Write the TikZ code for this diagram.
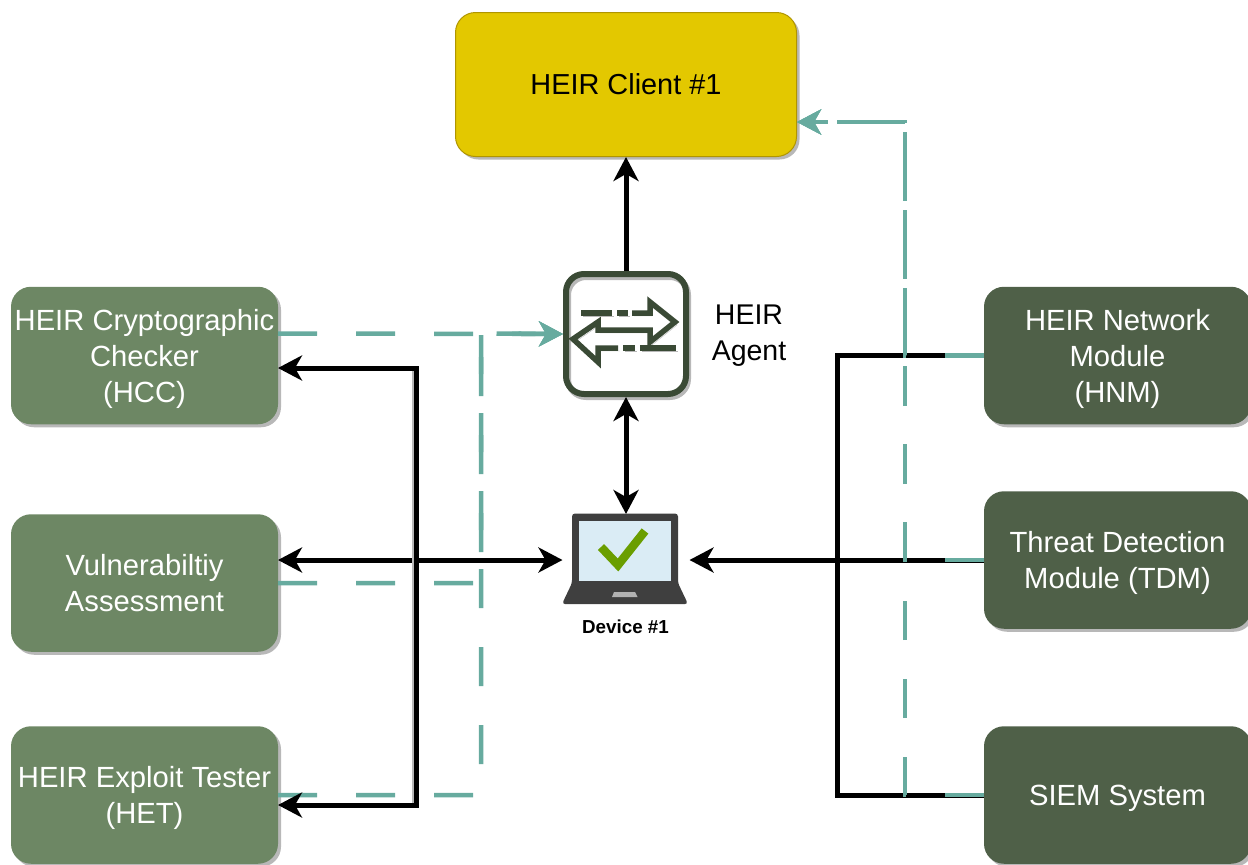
\documentclass[tikz,border=0pt]{standalone}
\usepackage{fontspec}
\setmainfont{Liberation Sans}
\usetikzlibrary{arrows.meta,shadows}
\definecolor{modgreen}{HTML}{6D8764}
\definecolor{darkgreen}{HTML}{4F6048}
\definecolor{agentgreen}{HTML}{3A4A35}
\definecolor{linkteal}{HTML}{67AB9F}
\definecolor{clientyellow}{HTML}{E3C800}
\definecolor{clientborder}{HTML}{B09500}
\definecolor{laptopgray}{HTML}{3F3F3F}
\definecolor{screenblue}{HTML}{DAECF5}
\definecolor{checkgreen}{HTML}{6A9E00}
\tikzset{
    softshadow/.style={drop shadow={shadow xshift=3pt,shadow yshift=-3pt,fill=black!28,opacity=1}},
    module/.style={rounded corners=20pt,softshadow,outer sep=0pt,inner sep=0pt,text=white,align=center,text depth=0pt,
        minimum width=267pt,minimum height=137.5pt,font=\fontsize{29.2}{36}\selectfont},
    leftmodule/.style={module,fill=modgreen},
    rightmodule/.style={module,fill=darkgreen},
    blackline/.style={draw=black,line width=5pt},
    busshadow/.style={draw=black!28,line width=5pt,transform canvas={xshift=-2pt}},
    tealdash/.style={draw=linkteal,line width=4.5pt,dash pattern=on 39pt off 39pt},
    tip/.style={-{Stealth[length=24pt,width=25pt,inset=7pt]}},
    bothtips/.style={{Stealth[length=24pt,width=25pt,inset=7pt]}-{Stealth[length=24pt,width=25pt,inset=7pt]}},
    iconline/.style={draw=agentgreen,line width=5.5pt,preaction={draw=black!28,transform canvas={xshift=2pt,yshift=-3pt}}}
}
\begin{document}
\begin{tikzpicture}[x=1pt,y=-1pt]
    \useasboundingbox (0,0) rectangle (1248,865);

    \node[rounded corners=20pt,softshadow,fill=clientyellow,draw=clientborder,line width=1pt,
        minimum width=341pt,minimum height=144pt,font=\fontsize{28.9}{36}\selectfont] (client) at (626,84.5) {HEIR Client \#1};

    \node[leftmodule] (HCC) at (144.5,355.5) {HEIR Cryptographic\\Checker\\(HCC)};
    \node[leftmodule] (vuln) at (144.5,583) {Vulnerabiltiy\\Assessment};
    \node[leftmodule] (HET) at (144.5,795) {HEIR Exploit Tester\\(HET)};

    \node[rightmodule] (HNM) at (1117.5,355.5) {HEIR Network\\Module\\(HNM)};
    \node[rightmodule] (TDM) at (1117.5,560) {Threat Detection\\Module (TDM)};
    \node[rightmodule] (SIEM) at (1117.5,795) {SIEM System};

    \node[rounded corners=18pt,iconline,line width=6pt,minimum size=120pt] (agent) at (626,334) {};
    \node[align=center,font=\fontsize{28.5}{36}\selectfont] (agentlabel) at (749,336) {HEIR\\Agent};

    % arrows inside the agent box
    \draw[iconline] (581,313) -- (612,313);
    \draw[iconline] (617,313) -- (628,313);
    \draw[iconline] (632,313) -- (650,313) -- (650,302) -- (675,322) -- (650,342) -- (650,330) -- (598,330)
        -- (598,322) -- (573,339) -- (598,362) -- (598,348) -- (618,348);
    \draw[iconline] (623,348) -- (635,348);
    \draw[iconline] (640,348) -- (676,348);

    % laptop
    \node[minimum width=127pt,minimum height=92pt,outer sep=0pt] (device) at (626,560) {};
    \fill[laptopgray,rounded corners=3pt] (572,583) -- (572,513.5) -- (678,513.5) -- (678,583) -- (688,604) -- (562,604) -- cycle;
    \fill[screenblue] (578.5,521) rectangle (671,581);
    \fill[black!30] (614,592) -- (635,592) -- (637.5,597) -- (612,597) -- cycle;
    \draw[checkgreen,line width=8.5pt] (601,547) -- (618,565) -- (645,531);
    \node[font=\fontsize{18.8}{22}\selectfont\bfseries] (devicelabel) at (625.5,627) {Device \#1};

    \coordinate (leftdash) at (481,333.5);
    \coordinate (rightdash) at (905,122);
    \coordinate (busjoin) at (416,560);
    \coordinate (blackjoin) at (837,560);

    \draw[tealdash,tip] ([yshift=22pt]HCC.east) -- (agent.west);
    \draw[tealdash,tip] (vuln.east) -| (leftdash) -- (agent.west);
    \draw[tealdash,tip] (HET.east) -| (leftdash) -- (agent.west);

    \draw[blackline,tip] (agent.north) -- (client.south);
    \draw[blackline,bothtips] (agent.south) -- (device.north);
    \draw[blackline,bothtips] ([yshift=23pt]vuln.east) -- (device.west);
    \draw[busshadow] ([yshift=-12.5pt]HCC.east -| busjoin) -- ([yshift=-10pt]HET.east -| busjoin);
    \draw[blackline,tip] (busjoin) |- ([yshift=-12.5pt]HCC.east);
    \draw[blackline,tip] (busjoin) |- ([yshift=-10pt]HET.east);
    \draw[blackline] (HNM.west) -| (blackjoin);
    \draw[blackline] (SIEM.west) -| (blackjoin);
    \draw[blackline,tip] (TDM.west) -- (device.east);

    \draw[tealdash,tip] (HNM.west) -| (rightdash) -- ([yshift=-37.5pt]client.east);
    \draw[tealdash,tip] (TDM.west) -| (rightdash) -- ([yshift=-37.5pt]client.east);
    \draw[tealdash,tip] (SIEM.west) -| (rightdash) -- ([yshift=-37.5pt]client.east);
\end{tikzpicture}
\end{document}
